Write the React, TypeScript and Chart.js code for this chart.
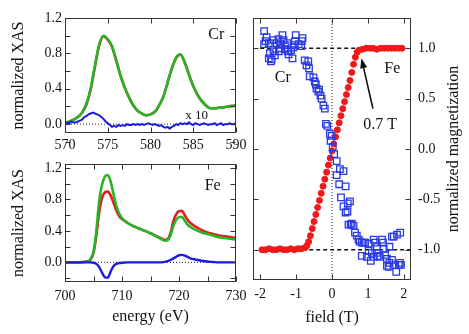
import React, { useEffect, useRef } from "react";
import { Chart, registerables } from "chart.js";

Chart.register(...registerables);

const FONT = "'Liberation Serif', 'Times New Roman', Times, serif";
const W = 469;
const H = 334;

// ---------- Cr L-edge (top left) ----------
const crEnergy = [570, 570.5, 571, 571.5, 572, 572.5, 573, 573.5, 574, 574.5, 575, 575.5, 576, 576.5, 577, 577.5, 578, 578.5, 579, 579.5, 580, 580.5, 581, 581.5, 582, 582.5, 583, 583.5, 584, 584.5, 585, 585.5, 586, 586.5, 587, 587.5, 588, 588.5, 589, 589.5, 590];
const crXasGreen = [0.01, 0.03, 0.05, 0.08, 0.13, 0.23, 0.40, 0.66, 0.90, 1.00, 0.96, 0.88, 0.72, 0.55, 0.41, 0.30, 0.21, 0.15, 0.12, 0.10, 0.11, 0.14, 0.21, 0.31, 0.47, 0.63, 0.75, 0.79, 0.70, 0.56, 0.43, 0.33, 0.26, 0.21, 0.18, 0.18, 0.185, 0.19, 0.20, 0.205, 0.21];
const crXasRed = [0.01, 0.03, 0.05, 0.08, 0.13, 0.22, 0.39, 0.65, 0.89, 0.995, 0.955, 0.875, 0.715, 0.545, 0.41, 0.30, 0.21, 0.15, 0.12, 0.10, 0.11, 0.14, 0.21, 0.31, 0.47, 0.63, 0.75, 0.785, 0.70, 0.56, 0.43, 0.33, 0.26, 0.21, 0.18, 0.18, 0.185, 0.19, 0.20, 0.205, 0.21];
const crXmcdEnergy = [570, 570.25, 570.5, 570.75, 571, 571.25, 571.5, 571.75, 572, 572.25, 572.5, 572.75, 573, 573.25, 573.5, 573.75, 574, 574.25, 574.5, 574.75, 575, 575.25, 575.5, 575.75, 576, 576.25, 576.5, 576.75, 577, 577.25, 577.5, 577.75, 578, 578.25, 578.5, 578.75, 579, 579.25, 579.5, 579.75, 580, 580.25, 580.5, 580.75, 581, 581.25, 581.5, 581.75, 582, 582.25, 582.5, 582.75, 583, 583.25, 583.5, 583.75, 584, 584.25, 584.5, 584.75, 585, 585.25, 585.5, 585.75, 586, 586.25, 586.5, 586.75, 587, 587.25, 587.5, 587.75, 588, 588.25, 588.5, 588.75, 589, 589.25, 589.5, 589.75, 590];
const crXmcd = [
  0.00, 0.02, 0.01, 0.03, 0.02, 0.02, 0.03, 0.04, 0.05, 0.08,
  0.09, 0.11, 0.12, 0.13, 0.12, 0.11, 0.10, 0.08, 0.06, 0.03,
  0.01, -0.01, -0.03, -0.02, -0.03, -0.01, -0.02, -0.01, -0.02, 0.00,
  -0.01, -0.01, 0.00, -0.01, 0.00, -0.01, 0.00, -0.01, 0.00, 0.01,
  0.00, -0.01, 0.00, -0.01, -0.02, -0.01, -0.03, -0.04, -0.03, -0.05,
  -0.03, -0.02, 0.00, -0.01, 0.01, 0.00, 0.01, 0.00, 0.02, 0.00,
  -0.01, 0.01, 0.00, -0.01, 0.00, 0.01, 0.00, -0.01, 0.00, 0.00,
  0.01, -0.01, 0.00, 0.01, -0.01, 0.00, 0.00, 0.01, 0.00, 0.00,
  0.01,
];

// ---------- Fe L-edge (bottom left) ----------
const feEnergy = [700, 702, 704, 704.5, 705, 705.5, 706, 706.5, 707, 707.5, 708, 708.5, 709, 709.5, 710, 711, 712, 713, 714, 715, 716, 717, 717.5, 718, 718.5, 719, 719.5, 720, 720.5, 721, 721.5, 722, 723, 724, 725, 726, 727, 728, 729, 730];
const feXasGreen = [0.00, 0.00, 0.01, 0.04, 0.13, 0.40, 0.78, 0.99, 1.09, 1.11, 1.03, 0.87, 0.72, 0.62, 0.56, 0.50, 0.46, 0.43, 0.40, 0.37, 0.33, 0.29, 0.275, 0.28, 0.34, 0.46, 0.54, 0.575, 0.58, 0.53, 0.48, 0.45, 0.41, 0.38, 0.36, 0.34, 0.32, 0.31, 0.30, 0.29];
const feXasRed = [0.00, 0.00, 0.01, 0.04, 0.12, 0.34, 0.64, 0.82, 0.89, 0.90, 0.85, 0.76, 0.66, 0.59, 0.55, 0.50, 0.46, 0.43, 0.40, 0.37, 0.335, 0.30, 0.285, 0.295, 0.37, 0.52, 0.61, 0.65, 0.655, 0.60, 0.54, 0.50, 0.45, 0.41, 0.38, 0.36, 0.34, 0.33, 0.32, 0.31];
const feXmcd = [0.00, 0.00, 0.00, 0.00, -0.005, -0.02, -0.06, -0.13, -0.19, -0.195, -0.12, -0.05, -0.02, -0.01, -0.005, 0.00, 0.00, 0.00, 0.00, 0.00, 0.00, 0.00, 0.005, 0.015, 0.03, 0.05, 0.07, 0.09, 0.095, 0.085, 0.07, 0.05, 0.035, 0.02, 0.01, 0.005, 0.00, 0.00, 0.00, 0.00];

// ---------- Hysteresis (right) ----------
const feField = [-1.95, -1.85, -1.75, -1.65, -1.55, -1.45, -1.35, -1.25, -1.15, -1.05, -0.95, -0.85, -0.75,
  -0.70, -0.65, -0.60, -0.55, -0.50, -0.45, -0.40, -0.35, -0.30, -0.25, -0.20, -0.15, -0.10, -0.05, 0.00, 0.05, 0.10, 0.15, 0.20, 0.25, 0.30, 0.35, 0.40, 0.45, 0.50, 0.55, 0.60, 0.65, 0.70, 0.75,
  0.85, 0.95, 1.05, 1.15, 1.25, 1.35, 1.45, 1.55, 1.65, 1.75, 1.85, 1.95];
const feMag = [-1.00, -1.00, -0.99, -1.00, -1.00, -0.99, -1.00, -1.00, -0.99, -1.00, -0.99, -0.99, -0.98,
  -0.96, -0.92, -0.86, -0.79, -0.72, -0.65, -0.58, -0.51, -0.44, -0.37, -0.30, -0.23, -0.16, -0.09, -0.02, 0.05, 0.12, 0.19, 0.26, 0.33, 0.40, 0.47, 0.54, 0.61, 0.68, 0.76, 0.84, 0.91, 0.96, 0.98,
  0.99, 1.00, 1.00, 1.00, 0.99, 1.00, 1.00, 1.00, 1.00, 1.00, 1.00, 1.00];
const crField = [
  -1.89, -1.82, -1.85, -1.89, -1.76, -1.63, -1.54, -1.49, -1.38, -1.35, -1.42, -1.31, -1.73, -1.63, -1.59, -1.68, -1.70, -1.76, -1.48, -1.45, -1.31, -1.23, -1.21, -1.14, -1.07, -1.03, -1.01, -1.05, -0.93, -0.86, -0.82, -0.84, -1.10, -1.25,
  -0.76, -0.71, -0.66, -0.64, -0.62, -0.52, -0.48, -0.45, -0.43, -0.38, -0.36, -0.32, -0.29, -0.24, -0.20, -0.17, -0.13, -0.06, -0.01, -0.04, 0.02, 0.06, 0.13,
  0.22, 0.32, 0.13, 0.20, 0.38, 0.25, 0.50, 0.44, 0.32, 0.38, 0.43,
  0.46, 0.52, 0.55, 0.60, 0.64, 0.69, 0.74, 0.77, 0.83, 0.88, 0.92, 1.02, 1.16, 1.20, 1.39, 1.42, 1.25, 1.44, 1.60, 1.67, 1.72, 1.81, 1.90,
  1.02, 1.11, 0.83, 0.97, 1.08, 1.25, 1.33, 1.48, 1.53, 1.58, 1.60, 1.67, 1.76, 1.86, 1.89, 1.53, 1.79, 1.92, 1.16, 1.27,
];
const crMag = [
  1.17, 1.11, 1.07, 1.04, 1.05, 1.08, 1.05, 1.09, 1.13, 1.08, 1.04, 1.03, 0.95, 0.97, 0.93, 0.89, 0.87, 0.90, 0.97, 1.00, 0.99, 0.97, 0.94, 0.98, 1.01, 1.07, 1.13, 1.03, 1.04, 1.02, 1.10, 1.07, 0.90, 1.05,
  0.88, 0.83, 0.87, 0.80, 0.72, 0.71, 0.67, 0.64, 0.60, 0.57, 0.59, 0.53, 0.50, 0.43, 0.40, 0.25, 0.23, 0.15, 0.13, 0.08, 0.02, -0.05, -0.12,
  -0.20, -0.22, -0.26, -0.35, -0.37, -0.48, -0.52, -0.54, -0.57, -0.63, -0.62,
  -0.75, -0.75, -0.74, -0.76, -0.83, -0.86, -0.90, -0.92, -0.93, -0.93, -0.93, -0.94, -0.90, -0.93, -0.90, -0.93, -0.97, -0.99, -0.97, -0.87, -0.87, -0.85, -0.83,
  -1.01, -1.03, -1.06, -1.07, -1.11, -1.03, -1.07, -1.05, -1.09, -1.17, -1.13, -1.10, -1.15, -1.15, -1.13, -1.16, -1.22, -1.15, -1.07, -1.06,
];
const upperRefField = [-2.0, 2.0];
const lowerRefField = [-2.0, 2.2];
const zeroLineMag = [-1.3, 1.3];
const arrowField = [1.14, 0.82];
const arrowMag = [0.40, 0.90];

// ---------- ticks ----------
const crXTicks = [570, 575, 580, 585, 590];
const crXLabels = [570, 575, 580, 585, 590];
const feXTicks = [700, 705, 710, 715, 720, 725, 730];
const feXLabels = [700, 710, 720, 730];
const xasYTicks = [-0.2, 0, 0.2, 0.4, 0.6, 0.8, 1.0, 1.2];
const xasYLabels = [0, 0.4, 0.8, 1.2];
const fieldTicks = [-2, -1, 0, 1, 2];
const magTicks = [-1, -0.5, 0, 0.5, 1];

const GREEN = "#27b427";
const RED = "#e31c1c";
const BLUE = "#1c1ce0";
const INK = "#111";

const pts = (xs: number[], ys: number[]) => xs.map((x, i) => ({ x, y: ys[i] }));
const flat = (xs: number[], v: number) => xs.map((x) => ({ x, y: v }));
const vert = (x: number, ys: number[]) => ys.map((y) => ({ x, y }));

const framePlugin = {
  id: "frame",
  afterDraw(chart: any) {
    const { ctx, chartArea: a, scales } = chart;
    const L = Math.round(a.left) + 0.5;
    const R = Math.round(a.right) - 0.5;
    const T = Math.round(a.top) + 0.5;
    const B = Math.round(a.bottom) - 0.5;
    const len = 5;
    ctx.save();
    ctx.strokeStyle = "#333";
    ctx.lineWidth = 1;
    ctx.setLineDash([]);
    ctx.strokeRect(L, T, R - L, B - T);
    ctx.beginPath();
    for (const t of scales.x.ticks) {
      const p = Math.round(scales.x.getPixelForValue(t.value)) + 0.5;
      ctx.moveTo(p, B); ctx.lineTo(p, B - len);
      ctx.moveTo(p, T); ctx.lineTo(p, T + len);
    }
    for (const t of scales.y.ticks) {
      const p = Math.round(scales.y.getPixelForValue(t.value)) + 0.5;
      ctx.moveTo(L, p); ctx.lineTo(L + len, p);
      ctx.moveTo(R, p); ctx.lineTo(R - len, p);
    }
    ctx.stroke();
    ctx.restore();
  },
};

type Note = {
  text: string; x?: number; y?: number; size?: number; data?: boolean;
  rotate?: boolean; midX?: boolean; midY?: boolean; baseline?: CanvasTextBaseline;
};

function notesPlugin(id: string, notes: Note[], arrow?: { fx: number[]; fy: number[] }) {
  return {
    id,
    afterDraw(chart: any) {
      const { ctx, scales, chartArea: a } = chart;
      ctx.save();
      ctx.fillStyle = INK;
      ctx.strokeStyle = INK;
      for (const n of notes) {
        let px = n.data ? scales.x.getPixelForValue(n.x) : (n.x as number);
        let py = n.data ? scales.y.getPixelForValue(n.y) : (n.y as number);
        if (n.midX) px = (a.left + a.right) / 2;
        if (n.midY) py = (a.top + a.bottom) / 2;
        ctx.font = `${n.size ?? 16}px ${FONT}`;
        ctx.textAlign = "center";
        ctx.textBaseline = n.baseline ?? "middle";
        ctx.save();
        ctx.translate(px, py);
        if (n.rotate) ctx.rotate(-Math.PI / 2);
        ctx.fillText(n.text, 0, 0);
        ctx.restore();
      }
      if (arrow) {
        const x1 = scales.x.getPixelForValue(arrow.fx[0]);
        const y1 = scales.y.getPixelForValue(arrow.fy[0]);
        const x2 = scales.x.getPixelForValue(arrow.fx[1]);
        const y2 = scales.y.getPixelForValue(arrow.fy[1]);
        const ang = Math.atan2(y2 - y1, x2 - x1);
        const hl = 10, hw = 3.5;
        const bx = x2 - hl * Math.cos(ang), by = y2 - hl * Math.sin(ang);
        ctx.lineWidth = 1.6;
        ctx.beginPath(); ctx.moveTo(x1, y1); ctx.lineTo(bx, by); ctx.stroke();
        ctx.beginPath();
        ctx.moveTo(x2, y2);
        ctx.lineTo(bx + hw * Math.sin(ang), by - hw * Math.cos(ang));
        ctx.lineTo(bx - hw * Math.sin(ang), by + hw * Math.cos(ang));
        ctx.closePath(); ctx.fill();
      }
      ctx.restore();
    },
  };
}

function axis(opts: {
  min: number; max: number; ticks: number[]; labels: number[]; fmt: (v: number) => string;
  size: number; horizontal: boolean; pad: number; position?: string;
}) {
  return {
    type: "linear",
    position: opts.position,
    min: opts.min,
    max: opts.max,
    grid: { display: false, drawTicks: false, tickLength: 0 },
    border: { display: false },
    afterBuildTicks: (ax: any) => { ax.ticks = opts.ticks.map((v) => ({ value: v })); },
    afterFit: (ax: any) => { if (opts.horizontal) ax.height = opts.size; else ax.width = opts.size; },
    ticks: {
      color: INK,
      font: { family: FONT, size: 14 },
      padding: opts.pad,
      autoSkip: false,
      maxRotation: 0,
      minRotation: 0,
      callback: (v: number) => (opts.labels.some((l) => Math.abs(l - v) < 1e-6) ? opts.fmt(v) : ""),
    },
  };
}

const line = (data: any[], color: string, width: number, smooth = true, dash: number[] = []) => ({
  data, borderColor: color, borderWidth: width, pointRadius: 0, fill: false,
  cubicInterpolationMode: smooth ? "monotone" : "default", tension: 0, borderDash: dash,
});

function baseOptions(padding: any, scales: any) {
  return {
    responsive: false,
    animation: false,
    events: [],
    layout: { padding },
    plugins: { legend: { display: false }, tooltip: { enabled: false } },
    scales,
  };
}

const fmt1 = (v: number) => v.toFixed(1);
const fmt0 = (v: number) => String(v);

function cfgCr(): any {
  return {
    type: "line",
    data: {
      datasets: [
        line(pts(crXmcdEnergy, crXmcd), BLUE, 2, false),
        line(pts(crEnergy, crXasGreen), GREEN, 2.6),
        line(pts(crEnergy, crXasRed), RED, 2.6),
        line(flat([570, 590], 0), "#222", 1, false, [1, 2]),
      ],
    },
    options: baseOptions({ left: 0, top: 18, right: W - 236, bottom: H - 133 - 27 }, {
      x: axis({ min: 570, max: 590, ticks: crXTicks, labels: crXLabels, fmt: fmt0, size: 27, horizontal: true, pad: 4 }),
      y: axis({ min: -0.1, max: 1.2, ticks: xasYTicks, labels: xasYLabels, fmt: fmt1, size: 65, horizontal: false, pad: 3 }),
    }),
    plugins: [framePlugin, notesPlugin("notesCr", [
      { text: "Cr", x: 587.7, y: 1.01, data: true, size: 16 },
      { text: "x 10", x: 585.4, y: 0.1, data: true, size: 13 },
      { text: "normalized XAS", x: 23, midY: true, rotate: true, baseline: "alphabetic", size: 16 },
    ])],
  };
}

function cfgFe(): any {
  return {
    type: "line",
    data: {
      datasets: [
        line(pts(feEnergy, feXmcd), BLUE, 2.4),
        line(pts(feEnergy, feXasGreen), GREEN, 2.6),
        line(pts(feEnergy, feXasRed), RED, 2.6),
        line(flat([700, 730], 0), "#222", 1, false, [1, 2]),
      ],
    },
    options: baseOptions({ left: 0, top: 164, right: W - 236, bottom: 0 }, {
      x: axis({ min: 700, max: 730, ticks: feXTicks, labels: feXLabels, fmt: fmt0, size: H - 282, horizontal: true, pad: 6 }),
      y: axis({ min: -0.25, max: 1.25, ticks: xasYTicks, labels: xasYLabels, fmt: fmt1, size: 65, horizontal: false, pad: 3 }),
    }),
    plugins: [framePlugin, notesPlugin("notesFe", [
      { text: "Fe", x: 725.9, y: 0.97, data: true, size: 16 },
      { text: "normalized XAS", x: 23, midY: true, rotate: true, baseline: "alphabetic", size: 16 },
      { text: "energy (eV)", midX: true, y: 321, baseline: "alphabetic", size: 16 },
    ])],
  };
}

function cfgHyst(): any {
  return {
    type: "line",
    data: {
      datasets: [
        {
          data: pts(crField, crMag), showLine: false, pointStyle: "rect", pointRadius: 4.6,
          borderColor: "#2a3ae6", backgroundColor: "rgba(0,0,0,0)", borderWidth: 1.3,
        },
        {
          data: pts(feField, feMag), showLine: false, pointStyle: "circle", pointRadius: 3,
          borderColor: "#f01818", backgroundColor: "#f01818", borderWidth: 1,
        },
        line(flat(upperRefField, 1), "#111", 1.5, false, [4, 3]),
        line(flat(lowerRefField, -1), "#111", 1.5, false, [4, 3]),
        line(vert(0, zeroLineMag), "#222", 1, false, [1, 2]),
      ],
    },
    options: baseOptions({ left: 253, top: 18, right: 0, bottom: 0 }, {
      x: axis({ min: -2.2, max: 2.2, ticks: fieldTicks, labels: fieldTicks, fmt: fmt0, size: H - 280, horizontal: true, pad: 6 }),
      y: axis({ min: -1.3, max: 1.3, ticks: magTicks, labels: magTicks, fmt: fmt1, size: W - 411, horizontal: false, pad: 7, position: "right" }),
    }),
    plugins: [framePlugin, notesPlugin("notesH", [
      { text: "Cr", x: -1.37, y: 0.71, data: true, size: 16 },
      { text: "Fe", x: 1.68, y: 0.8, data: true, size: 16 },
      { text: "0.7 T", x: 1.34, y: 0.24, data: true, size: 16 },
      { text: "field (T)", midX: true, y: 322, baseline: "alphabetic", size: 16 },
      { text: "normalized magnetization", x: 458, midY: true, rotate: true, baseline: "alphabetic", size: 16 },
    ], { fx: arrowField, fy: arrowMag })],
  };
}

export default function App() {
  const r1 = useRef<HTMLCanvasElement>(null);
  const r2 = useRef<HTMLCanvasElement>(null);
  const r3 = useRef<HTMLCanvasElement>(null);

  useEffect(() => {
    const charts = [
      new Chart(r1.current as HTMLCanvasElement, cfgCr()),
      new Chart(r2.current as HTMLCanvasElement, cfgFe()),
      new Chart(r3.current as HTMLCanvasElement, cfgHyst()),
    ];
    return () => charts.forEach((c) => c.destroy());
  }, []);

  const cs: React.CSSProperties = { position: "absolute", left: 0, top: 0, width: W, height: H };
  return (
    <div style={{ position: "fixed", left: 0, top: 0, width: W, height: H, background: "#fff" }}>
      <canvas ref={r1} width={W} height={H} style={cs} />
      <canvas ref={r2} width={W} height={H} style={cs} />
      <canvas ref={r3} width={W} height={H} style={cs} />
    </div>
  );
}
